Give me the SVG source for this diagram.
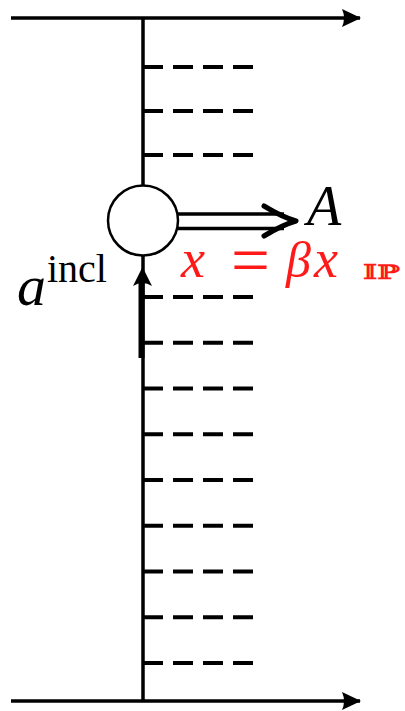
<svg xmlns="http://www.w3.org/2000/svg" width="405" height="711" viewBox="0 0 405 711">
<style>
.ln{stroke:#000;stroke-width:3.5;fill:none}
.ds{stroke:#000;stroke-width:4;stroke-dasharray:20 10;fill:none}
.m{font-family:"Liberation Serif",serif;font-style:italic}
.rm{font-family:"Liberation Serif",serif}
.r{fill:#ff1a1a}
</style>
<defs>
<marker id="ah" markerWidth="20" markerHeight="20" refX="18" refY="9" orient="auto" markerUnits="userSpaceOnUse">
<path d="M0,0 L19,9 L0,18 Q4,9 0,0 Z" fill="#000"/>
</marker>
</defs>
<g id="connectors">
<line class="ln" x1="11" y1="18" x2="360" y2="18" marker-end="url(#ah)"/>
<line class="ln" x1="11" y1="701" x2="360" y2="701" marker-end="url(#ah)"/>
<line class="ln" x1="143" y1="18" x2="143" y2="185"/>
<line class="ln" x1="143" y1="256" x2="143" y2="701"/>
<g id="dashes">
<line class="ds" x1="143" y1="67" x2="253" y2="67"/>
<line class="ds" x1="143" y1="111" x2="253" y2="111"/>
<line class="ds" x1="143" y1="155" x2="253" y2="155"/>
<line class="ds" x1="143" y1="297" x2="253" y2="297"/>
<line class="ds" x1="143" y1="342.75" x2="253" y2="342.75"/>
<line class="ds" x1="143" y1="388.5" x2="253" y2="388.5"/>
<line class="ds" x1="143" y1="434.25" x2="253" y2="434.25"/>
<line class="ds" x1="143" y1="480" x2="253" y2="480"/>
<line class="ds" x1="143" y1="525.75" x2="253" y2="525.75"/>
<line class="ds" x1="143" y1="571.5" x2="253" y2="571.5"/>
<line class="ds" x1="143" y1="617.25" x2="253" y2="617.25"/>
<line class="ds" x1="143" y1="663" x2="253" y2="663"/>
</g>
<g id="incl-arrow">
<line x1="141.5" y1="358" x2="141.5" y2="282" stroke="#000" stroke-width="6"/>
<path d="M142.5,267 L152,286 Q142.5,280 133,286 Z" fill="#000"/>
</g>
<g id="double-arrow">
<line class="ln" x1="178" y1="214" x2="284" y2="214"/>
<line class="ln" x1="178" y1="228.5" x2="284" y2="228.5"/>
<path d="M264,206 Q282,217 296,221 Q282,225 264,236" stroke="#000" stroke-width="5" fill="none" stroke-linecap="round" stroke-linejoin="round"/>
</g>
</g>
<g id="node-circle">
<circle cx="143" cy="220.5" r="35" fill="#fff" stroke="#000" stroke-width="2.5"/>
</g>
<g id="labels">
<text class="m" x="307" y="225" font-size="56">A</text>
<text class="m" x="17" y="305" font-size="58">a</text>
<text class="rm" x="47" y="282" font-size="40">incl</text>
<text class="m r" x="181" y="277" font-size="54">x</text>
<text class="rm r" x="231" y="284" font-size="69">=</text>
<text class="m r" x="286" y="277" font-size="50">β</text>
<text class="m r" x="314" y="277" font-size="54">x</text>
<text class="r" x="363" y="279" font-family="DejaVu Serif,serif" font-weight="bold" font-size="20" textLength="37" lengthAdjust="spacingAndGlyphs">𝕀ℙ</text>
</g>
</svg>
